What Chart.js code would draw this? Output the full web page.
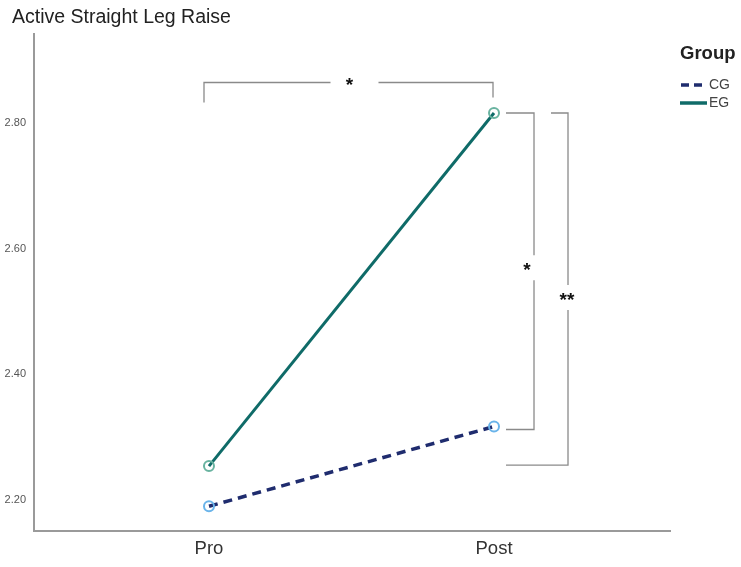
<!DOCTYPE html>
<html>
<head>
<meta charset="utf-8">
<script src="https://cdn.jsdelivr.net/npm/chart.js@4.4.1/dist/chart.umd.min.js"></script>
<style>
  html, body { margin: 0; padding: 0; background: #fff; }
  #wrap { width: 741px; height: 567px; }
</style>
</head>
<body>
<div id="wrap"><canvas id="c" width="741" height="567"></canvas></div>
<script>
// ---- data ----
const chartTitle = 'Active Straight Leg Raise';
const legendTitle = 'Group';
const categories = ['Pro', 'Post'];
const seriesNames = ['CG', 'EG'];
const cgValues = [2.190, 2.317];
const egValues = [2.254, 2.816];
const yTicks = [2.20, 2.40, 2.60, 2.80];
const yMin = 2.1507, yMax = 2.9417;
const xMin = -0.614, xMax = 1.6175;
// significance annotations
const sigTop = { label: '*', y: 2.865 };
const sigRight1 = { label: '*' };
const sigRight2 = { label: '**' };

const colCG = '#1f2c6e';
const colEG = '#0f6b68';

const annot = {
  id: 'annot',
  afterDraw(chart) {
    const ctx = chart.ctx;
    const xs = chart.scales.x, ys = chart.scales.y;
    ctx.save();
    // title
    ctx.fillStyle = '#222';
    ctx.font = '19.5px "Liberation Sans", Arial, sans-serif';
    ctx.textBaseline = 'middle';
    ctx.textAlign = 'left';
    ctx.fillText(chartTitle, 12, 18);

    // legend
    ctx.font = 'bold 18.5px "Liberation Sans", Arial, sans-serif';
    ctx.fillStyle = '#222';
    ctx.fillText(legendTitle, 680, 54);
    ctx.font = '14px "Liberation Sans", Arial, sans-serif';
    ctx.fillStyle = '#444';
    ctx.lineCap = 'butt';
    // CG
    ctx.strokeStyle = colCG; ctx.lineWidth = 3.5; ctx.setLineDash([8, 5]);
    ctx.beginPath(); ctx.moveTo(681, 85); ctx.lineTo(707, 85); ctx.stroke();
    ctx.setLineDash([]);
    ctx.fillText(seriesNames[0], 709, 85);
    // EG
    ctx.strokeStyle = colEG; ctx.lineWidth = 3.5;
    ctx.beginPath(); ctx.moveTo(680, 103); ctx.lineTo(707, 103); ctx.stroke();
    ctx.fillText(seriesNames[1], 709, 103);

    // brackets
    ctx.strokeStyle = '#8a8a8a';
    ctx.lineWidth = 1.3;
    const xPro = xs.getPixelForValue(0), xPost = xs.getPixelForValue(1);
    const yTop = Math.round(ys.getPixelForValue(sigTop.y)) + 0.5;
    const yEGPost = ys.getPixelForValue(egValues[1]);
    const yCGPost = ys.getPixelForValue(cgValues[1]);
    const yEGPro = ys.getPixelForValue(egValues[0]);
    // top bracket
    const sx = (xPro + xPost) / 2 - 3;
    ctx.beginPath();
    ctx.moveTo(xPro - 5, yTop + 20); ctx.lineTo(xPro - 5, yTop); ctx.lineTo(sx - 18, yTop);
    ctx.moveTo(sx + 30, yTop); ctx.lineTo(xPost - 1, yTop); ctx.lineTo(xPost - 1, yTop + 15);
    ctx.stroke();
    // right bracket 1
    const b1x = xPost + 40;
    const b1y0 = yEGPost, b1y1 = yCGPost + 3;
    const s1y = (b1y0 + b1y1) / 2 - 4;
    ctx.beginPath();
    ctx.moveTo(xPost + 12, b1y0); ctx.lineTo(b1x, b1y0); ctx.lineTo(b1x, s1y - 12);
    ctx.moveTo(b1x, s1y + 13); ctx.lineTo(b1x, b1y1); ctx.lineTo(xPost + 12, b1y1);
    ctx.stroke();
    // right bracket 2
    const b2x = xPost + 74;
    const b2y0 = yEGPost, b2y1 = yEGPro - 1;
    const s2y = (b2y0 + b2y1) / 2 + 7;
    ctx.beginPath();
    ctx.moveTo(xPost + 57, b2y0); ctx.lineTo(b2x, b2y0); ctx.lineTo(b2x, s2y - 11);
    ctx.moveTo(b2x, s2y + 14); ctx.lineTo(b2x, b2y1); ctx.lineTo(xPost + 12, b2y1);
    ctx.stroke();

    // stars
    ctx.fillStyle = '#111';
    ctx.font = 'bold 19px "Liberation Sans", Arial, sans-serif';
    ctx.textAlign = 'center';
    ctx.textBaseline = 'middle';
    ctx.fillText(sigTop.label, sx + 1, yTop + 3);
    ctx.fillText(sigRight1.label, b1x - 7, s1y + 4);
    ctx.fillText(sigRight2.label, b2x - 1, s2y + 5);
    ctx.restore();
  }
};

new Chart(document.getElementById('c'), {
  type: 'line',
  data: {
    datasets: [
      {
        label: seriesNames[0],
        data: categories.map((c, i) => ({ x: i, y: cgValues[i] })),
        borderColor: colCG,
        borderWidth: 3.5,
        borderDash: [9, 6],
        pointRadius: 5,
        pointBorderWidth: 2,
        pointBorderColor: '#6ab4ea',
        pointBackgroundColor: 'rgba(255,255,255,0)',
        tension: 0
      },
      {
        label: seriesNames[1],
        data: categories.map((c, i) => ({ x: i, y: egValues[i] })),
        borderColor: colEG,
        borderWidth: 3,
        pointRadius: 5,
        pointBorderWidth: 2,
        pointBorderColor: '#69b3a0',
        pointBackgroundColor: 'rgba(255,255,255,0)',
        tension: 0
      }
    ]
  },
  options: {
    responsive: false,
    animation: false,
    layout: { padding: { top: 34, right: 71, left: 0, bottom: 0 } },
    plugins: { legend: { display: false }, title: { display: false }, tooltip: { enabled: false } },
    scales: {
      x: {
        type: 'linear',
        min: xMin, max: xMax,
        afterBuildTicks: s => { s.ticks = categories.map((c, i) => ({ value: i })); },
        afterFit: s => { s.height = 36; },
        ticks: {
          callback: v => categories[v] ?? '',
          color: '#333',
          font: { size: 18.5, family: '"Liberation Sans", Arial, sans-serif' },
          padding: 7,
          maxRotation: 0
        },
        grid: { display: false, drawTicks: false },
        border: { display: true, color: '#9a9a9a', width: 2 }
      },
      y: {
        type: 'linear',
        min: yMin, max: yMax,
        afterBuildTicks: s => { s.ticks = yTicks.map(v => ({ value: v })); },
        afterFit: s => { s.width = 34; },
        ticks: {
          callback: v => Number(v).toFixed(2),
          color: '#555',
          font: { size: 11, family: '"Liberation Sans", Arial, sans-serif' },
          padding: 8
        },
        grid: { display: false, drawTicks: false },
        border: { display: true, color: '#9a9a9a', width: 2 }
      }
    }
  },
  plugins: [annot]
});
</script>
</body>
</html>
